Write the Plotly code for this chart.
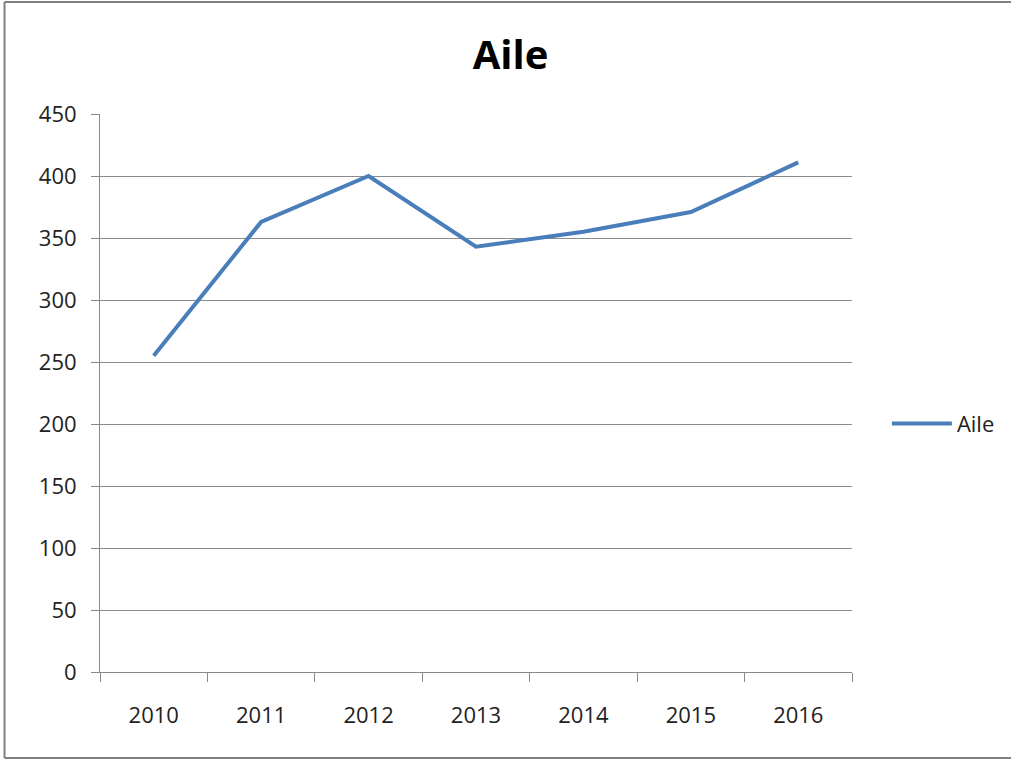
import plotly.graph_objects as go

years = ["2010", "2011", "2012", "2013", "2014", "2015", "2016"]
aile = [255, 363, 400, 343, 355, 371, 411]
y_ticks = [0, 50, 100, 150, 200, 250, 300, 350, 400, 450]

fig = go.Figure()
fig.add_trace(go.Scatter(
    x=years, y=aile, mode="lines", name="Aile",
    line=dict(color="#4A7EBB", width=4),
))

FONT = "Open Sans"
border = dict(color="#808080", width=2)
bx0, bx1, by0, by1 = -0.127, 1.6, -0.154, 1.2007
fig.update_layout(
    width=1011, height=762,
    margin=dict(l=100, r=158, t=114, b=90),
    paper_bgcolor="white", plot_bgcolor="white",
    title=dict(text="<b>Aile</b>", x=0.505, xanchor="center", xref="container",
               y=0.928, yanchor="middle", font=dict(family=FONT, size=40, color="black")),
    font=dict(family=FONT, size=22, color="#222222"),
    showlegend=True,
    legend=dict(x=1.045, xanchor="left", y=0.445, yanchor="middle",
                font=dict(family=FONT, size=22, color="#222222"),
                bgcolor="rgba(0,0,0,0)", itemwidth=60),
    xaxis=dict(type="category", tickson="boundaries", ticks="outside", ticklen=9,
               tickcolor="#888888", showgrid=False, showline=True, linecolor="#888888",
               linewidth=1, range=[-0.5, 6.5], zeroline=False,
               ticklabelstandoff=24),
    yaxis=dict(range=[0, 450], tickvals=y_ticks, ticks="outside", ticklen=8,
               tickcolor="#888888", showgrid=True, gridcolor="#8c8c8c", gridwidth=1,
               showline=True, linecolor="#888888", linewidth=1, zeroline=False,
               ticklabelstandoff=10),
    shapes=[
        dict(type="line", xref="paper", yref="paper", x0=bx0, x1=bx0, y0=by0, y1=by1, line=border, layer="below"),
        dict(type="line", xref="paper", yref="paper", x0=bx0, x1=bx1, y0=by1, y1=by1, line=border, layer="below"),
        dict(type="line", xref="paper", yref="paper", x0=bx0, x1=bx1, y0=by0, y1=by0, line=border, layer="below"),
    ],
)

fig.write_html("out.html", config={"displayModeBar": False},
               post_script="document.body.style.margin='0';document.body.style.overflow='hidden';")
